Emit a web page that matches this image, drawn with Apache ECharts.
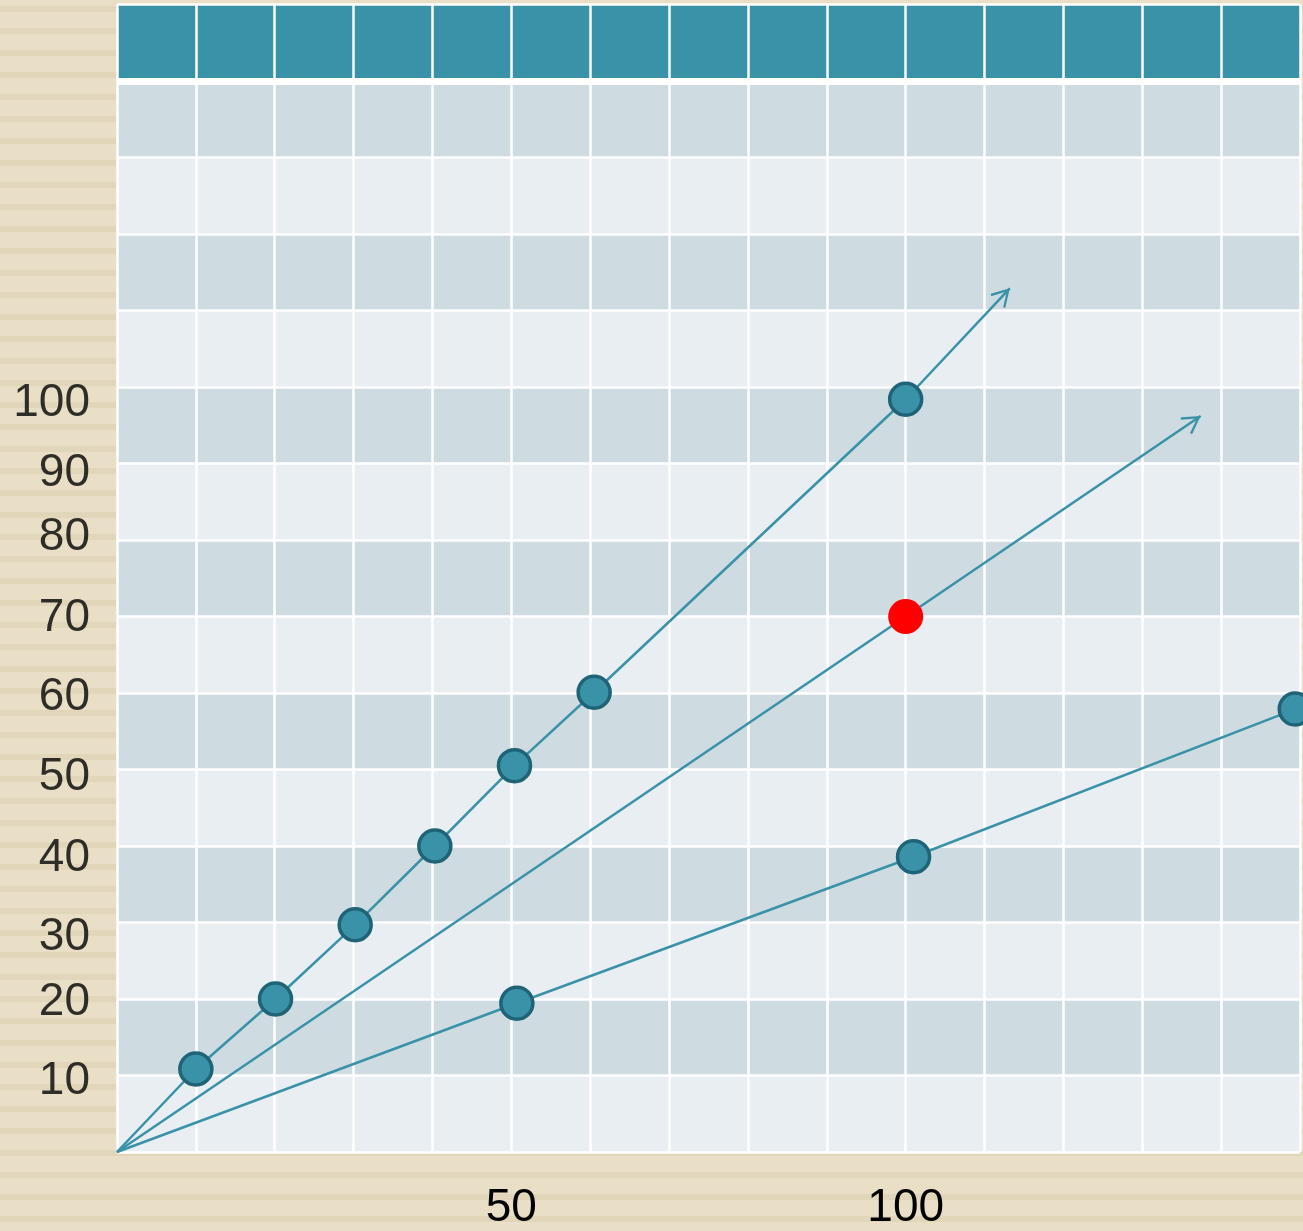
<!DOCTYPE html>
<html>
<head>
<meta charset="utf-8">
<script src="https://cdn.jsdelivr.net/npm/echarts@6/dist/echarts.min.js"></script>
<style>
  html, body { margin: 0; padding: 0; }
  body {
    width: 1303px; height: 1231px; overflow: hidden;
    background: repeating-linear-gradient(to bottom, #e9dec6 0px, #e9dec6 6px, #e1d6b9 6px, #e1d6b9 12px, #e9dec6 12px, #e9dec6 22px);
  }
  #chart { width: 1303px; height: 1231px; }
</style>
</head>
<body>
<div id="chart"></div>
<script>
// ---- data ----
const xTickLabels = [50, 100];
const yTickLabels = ['10', '20', '30', '40', '50', '60', '70', '80', '90', '100'];
const yTickPos = [9.6, 19.9, 28.5, 38.8, 49.4, 59.8, 70.2, 80.7, 89.1, 98.3];

const line1Points = [[10, 10.85], [20.1, 20.0], [30.2, 29.7], [40.3, 40.0], [50.4, 50.5], [60.5, 60.1], [100, 98.4]];
const line1Arrow = [113.2, 112.9];

const line2Point = [[100, 70.0]];
const line2Arrow = [137.4, 96.2];

const line3Points = [[50.7, 19.45], [101, 38.6], [149.4, 57.9]];

const origin = [0, 0];

// ---- styles ----
const TEAL = '#3a92a8';
const TEAL_DARK = '#1f6476';
const LIGHT = '#e8eef2';
const DARK = '#cedbe1';
const areaColors = [];
for (let i = 0; i < 14; i++) areaColors.push(i % 2 === 0 ? LIGHT : DARK);
areaColors.push(TEAL);

// open chevron arrow; tip sits at the centre of the symbol box so it lands on the end point
const chevron = 'path://M100,0 L200,170 L182,185 L100,44 L18,185 L0,170 Z M100,-185 L100.5,-185 L100,-184.5 Z';

function arrowLine(from, to) {
  return {
    silent: true,
    symbol: ['none', chevron],
    symbolSize: [20, 37],
    label: { show: false },
    lineStyle: { color: TEAL, width: 2.5, type: 'solid' },
    data: [[{ coord: from }, { coord: to }]],
    animation: false
  };
}

const chart = echarts.init(document.getElementById('chart'), null, { renderer: 'canvas' });

const option = {
  backgroundColor: 'transparent',
  animation: false,
  textStyle: { fontFamily: 'Liberation Sans, Arial, sans-serif' },
  grid: { left: 117, right: 0, top: 4.5, bottom: 75, containLabel: false },
  xAxis: {
    type: 'value', min: 0, max: 150, interval: 10,
    axisLine: { show: false }, axisTick: { show: false },
    axisLabel: {
      margin: 33, fontSize: 46, color: '#000000',
      fontFamily: 'Liberation Sans, Arial, sans-serif',
      formatter: v => (xTickLabels.indexOf(v) >= 0 ? String(v) : '')
    },
    splitLine: { show: true, lineStyle: { color: '#ffffff', width: 2.5 } }
  },
  yAxis: {
    type: 'value', min: 0, max: 150, interval: 10,
    axisLine: { show: false }, axisTick: { show: false },
    axisLabel: { show: false },
    splitLine: { show: true, lineStyle: { color: '#ffffff', width: 2.5 } },
    splitArea: { show: true, areaStyle: { color: areaColors } }
  },
  series: [
    // thick white separator under the header row
    {
      type: 'line', data: [], silent: true,
      markLine: {
        silent: true, symbol: ['none', 'none'], label: { show: false },
        lineStyle: { color: '#ffffff', width: 7, type: 'solid' },
        data: [{ yAxis: 140 }], animation: false
      }
    },
    // line 1
    {
      type: 'line', data: [origin].concat(line1Points), showSymbol: false, silent: true,
      lineStyle: { color: TEAL, width: 2.5 }, z: 3,
      markLine: arrowLine(line1Points[line1Points.length - 1], line1Arrow)
    },
    // line 2
    {
      type: 'line', data: [origin].concat(line2Point), showSymbol: false, silent: true,
      lineStyle: { color: TEAL, width: 2.5 }, z: 3,
      markLine: arrowLine(line2Point[0], line2Arrow)
    },
    // line 3
    {
      type: 'line', data: [origin].concat(line3Points), showSymbol: false, silent: true,
      lineStyle: { color: TEAL, width: 2.5 }, z: 3
    },
    // points
    {
      type: 'scatter', data: line1Points.concat(line3Points), symbol: 'circle', symbolSize: 32,
      itemStyle: { color: TEAL, borderColor: TEAL_DARK, borderWidth: 3.5, opacity: 1 }, z: 5, silent: true
    },
    {
      type: 'scatter', data: line2Point, symbol: 'circle', symbolSize: 35,
      itemStyle: { color: '#ff0000', opacity: 1 }, z: 6, silent: true
    },
    // y tick labels (hand placed in the reference)
    {
      type: 'scatter', symbolSize: 0, silent: true, z: 7,
      data: yTickPos.map((v, i) => ({ value: [0, v], name: yTickLabels[i] })),
      label: {
        show: true, position: 'left', distance: 27, offset: [0, 3], formatter: p => p.name,
        fontSize: 46, color: '#000000', fontFamily: 'Liberation Sans, Arial, sans-serif'
      }
    }
  ]
};
chart.setOption(option);
</script>
</body>
</html>
